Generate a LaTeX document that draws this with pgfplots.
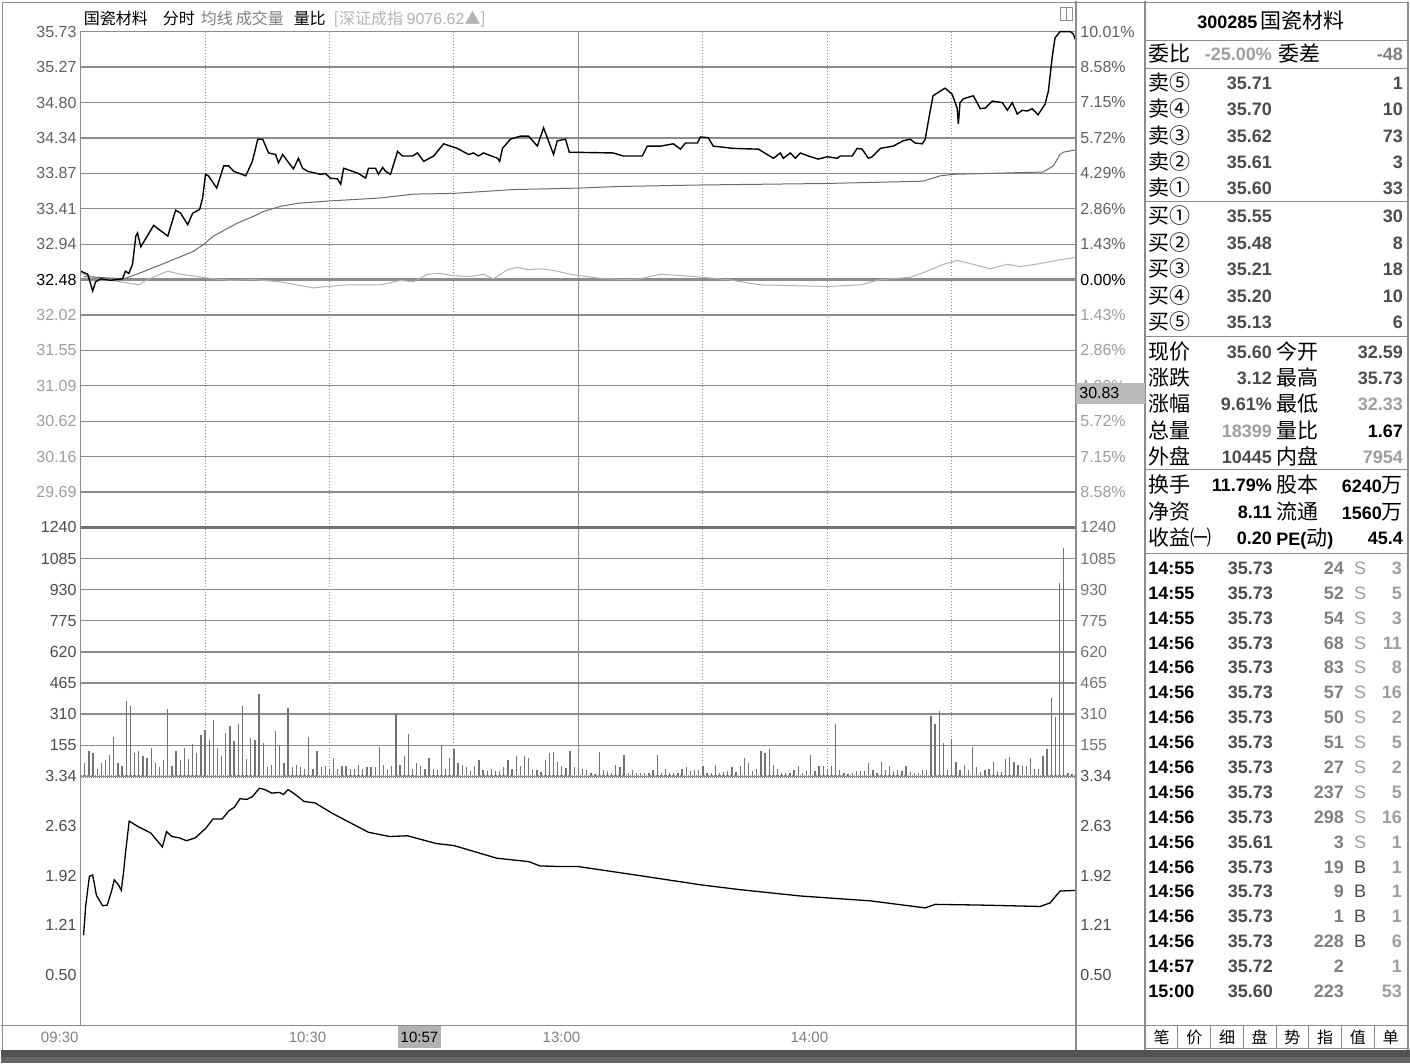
\documentclass[border=0pt]{standalone}
\usepackage{pgfplots}
\usepackage{pgfplotstable}
\pgfplotsset{compat=1.18}
\usepackage{fontspec}
\setmainfont{Liberation Sans}
\newfontfamily\cjk{Noto Sans CJK SC}

\definecolor{gl}{gray}{0.55}
\definecolor{up}{gray}{0.38}
\definecolor{dn}{gray}{0.62}
\definecolor{avg}{gray}{0.42}
\definecolor{idx}{gray}{0.70}
\definecolor{vol}{gray}{0.45}
\definecolor{dk}{gray}{0.30}
\definecolor{lt}{gray}{0.62}

\newcommand\tk{\fontsize{16}{18}\selectfont}
\newcommand\nb{\fontsize{18}{20}\selectfont\bfseries}
\newcommand\cj[1]{{\cjk\fontsize{21}{24}\selectfont #1}}
\newcommand\Sx{\textcolor{lt}{S}}
\newcommand\Bx{\textcolor{dk}{B}}

\pgfplotsset{panel/.style={scale only axis, width=996pt, anchor=north west,
  xmin=0, xmax=240, xtick=\empty, axis line style={draw=gl, line width=1.4pt},
  tick style={draw=none}, clip=false, yticklabel style={font=\tk, inner sep=4pt}}}

% minute, price
\pgfplotstableread{
m p
0 32.59
1.7 32.55
2.9 32.33
3.6 32.45
4.8 32.49
7.2 32.47
10.1 32.49
10.8 32.59
11.6 32.56
12.5 32.68
13.3 33.05
13.7 33.09
14.5 32.91
17.6 33.19
21.0 33.05
22.9 33.39
24.1 33.35
25.8 33.20
27.0 33.35
28.7 33.40
29.4 33.55
30.1 33.86
30.8 33.84
32.8 33.68
34.5 33.97
35.7 33.97
36.9 33.90
39.8 33.84
41.4 34.03
42.7 34.32
43.9 34.32
45.3 34.14
47.0 34.12
47.7 34.01
48.7 34.12
49.9 34.03
51.3 33.93
52.5 34.07
53.5 33.94
54.7 33.90
57.8 33.86
59.0 33.87
60.2 33.81
61.9 33.80
62.7 33.73
63.4 33.94
65.5 33.90
67.0 33.87
68.7 33.81
69.4 33.94
71.1 33.94
71.8 33.86
72.8 33.95
73.5 33.90
74.7 33.86
76.4 34.16
77.6 34.10
80.0 34.10
81.2 34.14
82.7 34.03
85.1 34.10
87.5 34.26
90.8 34.20
93.5 34.12
94.7 34.14
95.9 34.10
97.1 34.14
100.5 34.07
101.0 34.03
101.7 34.20
103.6 34.32
106.0 34.36
108.0 34.36
110.1 34.23
111.6 34.47
112.5 34.34
114.0 34.12
114.9 34.30
116.9 34.32
117.8 34.15
128.4 34.14
130.8 34.10
135.4 34.10
136.6 34.23
139.8 34.23
142.9 34.26
144.6 34.19
145.8 34.27
148.7 34.27
149.4 34.35
151.3 34.34
152.5 34.23
157.3 34.20
163.4 34.19
167.0 34.07
168.7 34.14
169.4 34.07
171.1 34.14
172.3 34.07
173.5 34.14
175.4 34.10
177.8 34.06
180.0 34.09
182.4 34.07
183.1 34.10
186.0 34.10
187.2 34.20
188.4 34.19
189.9 34.07
190.8 34.09
192.8 34.20
195.9 34.23
198.3 34.30
200.0 34.32
201.2 34.27
202.9 34.26
203.6 34.32
204.8 34.69
205.5 34.89
207.2 34.95
208.4 34.99
210.1 34.91
211.3 34.73
211.6 34.52
212.0 34.80
212.8 34.85
215.2 34.89
216.9 34.72
218.1 34.73
219.8 34.82
222.2 34.80
223.4 34.70
224.6 34.80
225.8 34.65
227.0 34.70
228.2 34.69
229.4 34.72
230.8 34.64
232.5 34.78
233.3 34.95
234.2 35.39
234.9 35.65
236.1 35.73
238.6 35.73
239.3 35.70
240 35.60
}\pricetab

% minute, average price
\pgfplotstableread{
m p
0.7 32.52
10.4 32.49
14.0 32.56
20.0 32.69
27.2 32.85
29.6 32.94
32.0 33.05
37.8 33.22
41.7 33.31
43.9 33.37
48.2 33.44
52.3 33.48
59.8 33.51
72.3 33.55
80.2 33.60
89.9 33.61
104.3 33.66
120.5 33.68
129.4 33.70
149.4 33.72
164.6 33.73
180.0 33.74
203.1 33.77
207.2 33.84
210.4 33.86
232.0 33.89
234.5 33.97
236.1 34.12
236.9 34.15
239.8 34.18
}\avgtab

% minute, index (price scale)
\pgfplotstableread{
m p
0 32.56
4.8 32.49
12.0 32.43
14.0 32.41
16.1 32.48
21.0 32.59
24.1 32.55
32.0 32.49
36.1 32.47
41.7 32.48
48.2 32.45
56.1 32.37
59.5 32.39
64.3 32.41
72.3 32.41
77.1 32.47
80.2 32.45
83.6 32.55
86.7 32.56
89.9 32.53
94.0 32.52
97.1 32.55
99.5 32.49
102.9 32.61
105.3 32.64
107.7 32.61
110.8 32.62
114.0 32.60
118.1 32.55
120.5 32.53
126.0 32.49
131.8 32.48
134.9 32.49
139.8 32.55
147.7 32.52
155.9 32.48
163.9 32.41
171.8 32.40
180.0 32.39
188.0 32.41
192.8 32.48
200.0 32.51
204.1 32.59
208.0 32.68
211.3 32.73
214.5 32.69
219.3 32.62
223.4 32.68
226.5 32.65
231.3 32.69
236.1 32.74
239.8 32.77
}\idxtab

% minute, volume
\pgfplotstableread{
m v
1 67
2 125
3 115
4 35
5 65
6 80
7 105
8 195
9 65
10 50
11 375
12 350
13 115
14 125
15 100
16 90
17 140
18 65
19 45
20 80
21 335
22 50
23 125
24 80
25 140
26 85
27 160
28 115
29 205
30 230
31 180
32 280
33 140
34 100
35 215
36 250
37 175
38 260
39 350
40 85
41 190
42 180
43 410
44 165
45 45
46 55
47 225
48 155
49 65
50 340
51 45
52 55
53 45
54 35
55 195
56 35
57 125
58 45
59 50
60 35
61 90
62 35
63 50
64 50
65 35
66 35
67 55
68 35
69 45
70 45
71 45
72 145
73 55
74 30
75 50
76 310
77 55
78 100
79 210
80 35
81 65
82 50
83 35
84 90
85 35
86 30
87 155
88 35
89 90
90 135
91 65
92 55
93 45
94 25
95 50
96 80
97 30
98 25
99 35
100 25
101 25
102 45
103 80
104 35
105 100
106 50
107 100
108 90
109 30
110 30
111 20
112 80
113 115
114 120
115 70
116 50
117 40
118 125
119 45
120 40
121 35
122 30
123 15
124 10
125 120
126 30
127 25
128 15
129 55
130 45
131 105
132 15
133 30
134 15
135 15
136 15
137 15
138 30
139 105
140 15
141 35
142 15
143 15
144 15
145 35
146 45
147 25
148 30
149 30
150 50
151 15
152 15
153 55
154 15
155 20
156 25
157 45
158 20
159 50
160 90
161 65
162 25
163 35
164 125
165 115
166 135
167 55
168 35
169 15
170 15
171 15
172 30
173 50
174 15
175 25
176 105
177 25
178 50
179 50
180 35
181 50
182 260
183 30
184 15
185 10
186 15
187 25
188 25
189 25
190 65
191 30
192 15
193 70
194 30
195 50
196 25
197 30
198 25
199 50
200 20
201 15
202 15
203 30
204 30
205 300
206 260
207 325
208 165
209 30
210 185
211 70
212 30
213 55
214 30
215 145
216 45
217 20
218 30
219 35
220 70
221 25
222 20
223 85
224 95
225 70
226 55
227 50
228 50
229 90
230 35
231 35
232 100
233 135
234 390
235 295
236 965
237 1140
238 15
239 10
240 20
}\voltab

% minute, volume ratio
\pgfplotstableread{
m r
0.7 1.07
1.2 1.48
2.1 1.91
2.9 1.93
3.8 1.64
5.3 1.49
6.4 1.50
7.4 1.69
8.1 1.86
9.1 1.79
9.8 1.71
10.4 2.00
10.8 2.24
11.7 2.70
13.9 2.62
16.9 2.53
18.6 2.41
19.7 2.33
20.7 2.55
22.0 2.48
23.8 2.46
25.5 2.42
27.6 2.46
30.2 2.60
31.9 2.73
34.1 2.73
35.8 2.85
37.1 2.90
38.4 3.02
40.1 3.01
41.4 3.05
43.1 3.17
44.4 3.15
46.1 3.10
47.9 3.11
48.9 3.08
50.0 3.15
51.3 3.10
53.9 2.98
56.5 2.96
60.7 2.81
69.4 2.54
74.5 2.48
78.8 2.49
85.7 2.38
90.0 2.35
100.3 2.17
108.1 2.12
110.7 2.06
115.7 2.05
120.0 2.05
134.9 1.92
149.4 1.79
159.0 1.72
173.5 1.63
180.7 1.60
190.4 1.56
203.6 1.46
206.0 1.51
216.9 1.50
231.3 1.48
233.7 1.53
236.1 1.70
239.8 1.71
}\ratiotab

\begin{document}
\begin{tikzpicture}[x=1pt,y=-1pt,
  bw/.style={anchor=base west,inner sep=0pt},
  be/.style={anchor=base east,inner sep=0pt}]

\fill[white] (0,0) rectangle (1410,1063);

% vertical time grid (price + volume panels)
\foreach \x in {204.5,329,453.5,702.5,827,951.5}
  \draw[gl, line width=1pt, dash pattern=on 1pt off 2pt] (\x,31) -- (\x,776);
\draw[gl, line width=1.3pt] (578,31) -- (578,776);

% ---------- price panel ----------
\begin{axis}[panel, at={(80pt,-31pt)}, height=496pt, ymin=29.23, ymax=35.73,
  ytick={35.73,35.2657,34.8014,34.3371,33.8729,33.4086,32.9443,32.48,32.0157,31.5514,31.0871,30.6229,30.1586,29.6943},
  yticklabels={\textcolor{up}{35.73},\textcolor{up}{35.27},\textcolor{up}{34.80},\textcolor{up}{34.34},\textcolor{up}{33.87},\textcolor{up}{33.41},\textcolor{up}{32.94},\textcolor{black}{32.48},\textcolor{dn}{32.02},\textcolor{dn}{31.55},\textcolor{dn}{31.09},\textcolor{dn}{30.62},\textcolor{dn}{30.16},\textcolor{dn}{29.69}},
  ymajorgrids, y grid style={draw=gl, line width=1.3pt}]
\draw[gl, line width=3pt] (axis cs:0,32.48) -- (axis cs:240,32.48);
\addplot[idx, line width=1pt] table[x=m,y=p] {\idxtab};
\addplot[avg, line width=1pt] table[x=m,y=p] {\avgtab};
\addplot[black, line width=1.4pt] table[x=m,y=p] {\pricetab};
\end{axis}

% ---------- volume panel ----------
\begin{axis}[panel, at={(80pt,-527pt)}, height=249pt, ymin=0, ymax=1240,
  ytick={155,310,465,620,775,930,1085,1240},
  yticklabels={155,310,465,620,775,930,1085,1240},
  yticklabel style={text=dk},
  ymajorgrids, y grid style={draw=gl, line width=1.3pt}]
\addplot[ycomb, vol, line width=1.3pt] table[x=m,y=v] {\voltab};
\end{axis}

% ---------- volume ratio panel ----------
\begin{axis}[panel, at={(80pt,-776pt)}, height=249pt, ymin=-0.217, ymax=3.34,
  ytick={0.50,1.21,1.92,2.63,3.34},
  yticklabels={0.50,1.21,1.92,2.63,3.34},
  yticklabel style={text=dk}]
\addplot[black, line width=1.3pt] table[x=m,y=r] {\ratiotab};
\end{axis}

% right-hand tick labels
\foreach \t/\c [count=\i from 0] in {10.01/up,8.58/up,7.15/up,5.72/up,4.29/up,2.86/up,1.43/up,0.00/black,1.43/dn,2.86/dn,4.29/dn,5.72/dn,7.15/dn,8.58/dn}
  \node[anchor=west, font=\tk, text=\c, inner sep=0pt] at (1080,31+35.4286*\i) {\t\%};
\foreach \t [count=\i from 0] in {1240,1085,930,775,620,465,310,155}
  \node[anchor=west, font=\tk, text=vol, inner sep=0pt] at (1080,527+31.125*\i) {\t};
\foreach \t [count=\i from 0] in {3.34,2.63,1.92,1.21,0.50}
  \node[anchor=west, font=\tk, text=dk, inner sep=0pt] at (1080,776+49.7*\i) {\t};

% separators and frame
\draw[gl!80!black, line width=3pt] (80,527) -- (1076,527);
\draw[gl, line width=3pt, dash pattern=on 1pt off 1pt] (80,776) -- (1076,776);
\draw[gl, line width=1.4pt] (80,31) -- (80,1025);
\draw[gl, line width=1.4pt] (1076,0) -- (1076,1050);
\draw[gl, line width=1.4pt] (1145,0) -- (1145,1050);
\draw[gl, line width=1.4pt] (0,1025) -- (1145,1025);
\draw[gl, line width=1.5pt] (2,1050) -- (2,2) -- (1408,2) -- (1408,1050);
\foreach \y in {40,68,201,336,469,553,1025}
  \draw[gl, line width=1.3pt] (1145,\y) -- (1408,\y);
\draw[gl, line width=1.3pt] (1145,1048) -- (1408,1048);
\foreach \i in {1,...,7}
  \draw[gl, line width=1.1pt] (1145+32.75*\i,1025) -- (1145+32.75*\i,1048);
\fill[gray!65!black] (0,1050) rectangle (1410,1063);
\fill[gray!80!black] (0,1057) rectangle (1410,1063);

% small icon top right of chart
\draw[gl, line width=1pt] (1060,7) rectangle (1072,20);
\draw[gl, line width=1pt] (1066,7) -- (1066,20);

% cursor price box
\fill[gray!55] (1076,382) rectangle (1145,403);
\node[anchor=west, font=\tk, inner sep=0pt] at (1079,392.5) {30.83};

% title row
\node[bw] at (83,24) {\cjk\fontsize{16}{18}\selectfont 国瓷材料};
\node[bw] at (162,24) {\cjk\fontsize{16}{18}\selectfont 分时};
\node[bw, text=gray] at (200,24) {\cjk\fontsize{16}{18}\selectfont 均线};
\node[bw, text=gray] at (235,24) {\cjk\fontsize{16}{18}\selectfont 成交量};
\node[bw] at (293,24) {\cjk\fontsize{16}{18}\selectfont 量比};
\node[bw, text=gray!60] at (333,24) {\cjk\fontsize{16}{18}\selectfont [深证成指 {\fontspec{Liberation Sans}9076.62}▲]};

% time axis
\begin{scope}[every node/.style={inner sep=0pt, font=\fontsize{15}{17}\selectfont, text=gray}]
\node[anchor=east] at (78,1037) {09:30};
\node[anchor=east] at (326,1037) {10:30};
\node[anchor=east] at (580,1037) {13:00};
\node[anchor=east] at (828,1037) {14:00};
\end{scope}
\fill[gray!60] (397,1026) rectangle (441,1048);
\node[inner sep=0pt, font=\fontsize{15}{17}\selectfont] at (419,1037) {10:57};

% ---------- right panel ----------
\node[bw] at (1197,28) {{\nb 300285} \cj{国瓷材料}};
\node[bw] at (1148,61) {\cj{委比}};
\node[be, text=lt] at (1272,60) {\nb -25.00\%};
\node[bw] at (1278,61) {\cj{委差}};
\node[be, text=gray] at (1403,60) {\nb -48};

\foreach \y/\l/\p/\v in {82/卖⑤/35.71/1,108/卖④/35.70/10,135/卖③/35.62/73,161/卖②/35.61/3,187/卖①/35.60/33,
                         215/买①/35.55/30,242/买②/35.48/8,268/买③/35.21/18,295/买④/35.20/10,321/买⑤/35.13/6}{
  \node[bw] at (1148,\y+8) {\cj{\l}};
  \node[be, text=dk] at (1272,\y+7) {\nb \p};
  \node[be, text=dk] at (1403,\y+7) {\nb \v};
}

\foreach \y/\a/\va/\ca/\b/\vb/\cb in {
  351/现价/35.60/dk/今开/32.59/dk,
  377/涨跌/3.12/dk/最高/35.73/dk,
  403/涨幅/9.61\%/dk/最低/32.33/lt,
  430/总量/18399/lt/量比/1.67/black,
  456/外盘/10445/dk/内盘/7954/lt}{
  \node[bw] at (1148,\y+8) {\cj{\a}};
  \node[be, text=\ca] at (1272,\y+7) {\nb \va};
  \node[bw] at (1276,\y+8) {\cj{\b}};
  \node[be, text=\cb] at (1403,\y+7) {\nb \vb};
}
\node[bw] at (1148,492) {\cj{换手}};
\node[be] at (1272,491) {\nb 11.79\%};
\node[bw] at (1276,492) {\cj{股本}};
\node[be] at (1403,492) {{\nb 6240}\cj{万}};
\node[bw] at (1148,519) {\cj{净资}};
\node[be] at (1272,518) {\nb 8.11};
\node[bw] at (1276,519) {\cj{流通}};
\node[be] at (1403,519) {{\nb 1560}\cj{万}};
\node[bw] at (1148,545) {\cj{收益㈠}};
\node[be] at (1272,544) {\nb 0.20};
\node[bw] at (1276,545) {{\nb PE(}\cj{动}{\nb )}};
\node[be] at (1403,544) {\nb 45.4};

\foreach \t/\p/\v/\s/\c [count=\i from 0] in {
  14:55/35.73/24/\Sx/3, 14:55/35.73/52/\Sx/5, 14:55/35.73/54/\Sx/3,
  14:56/35.73/68/\Sx/11, 14:56/35.73/83/\Sx/8, 14:56/35.73/57/\Sx/16,
  14:56/35.73/50/\Sx/2, 14:56/35.73/51/\Sx/5, 14:56/35.73/27/\Sx/2,
  14:56/35.73/237/\Sx/5, 14:56/35.73/298/\Sx/16, 14:56/35.61/3/\Sx/1,
  14:56/35.73/19/\Bx/1, 14:56/35.73/9/\Bx/1, 14:56/35.73/1/\Bx/1,
  14:56/35.73/228/\Bx/6, 14:57/35.72/2/{}/1, 15:00/35.60/223/{}/53}{
  \node[bw] at (1148,574+24.9*\i) {\nb \t};
  \node[be, text=dk] at (1273,574+24.9*\i) {\nb \p};
  \node[be, text=gray] at (1344,574+24.9*\i) {\nb \v};
  \node[anchor=base, inner sep=0pt] at (1360,574+24.9*\i) {\fontsize{18}{20}\selectfont \s};
  \node[be, text=lt] at (1402,574+24.9*\i) {\nb \c};
}

\foreach \w [count=\i from 0] in {笔,价,细,盘,势,指,值,单}
  \node[inner sep=0pt] at (1145+32.75*\i+16.4,1037) {\cjk\fontsize{16}{18}\selectfont \w};
\end{tikzpicture}
\end{document}
